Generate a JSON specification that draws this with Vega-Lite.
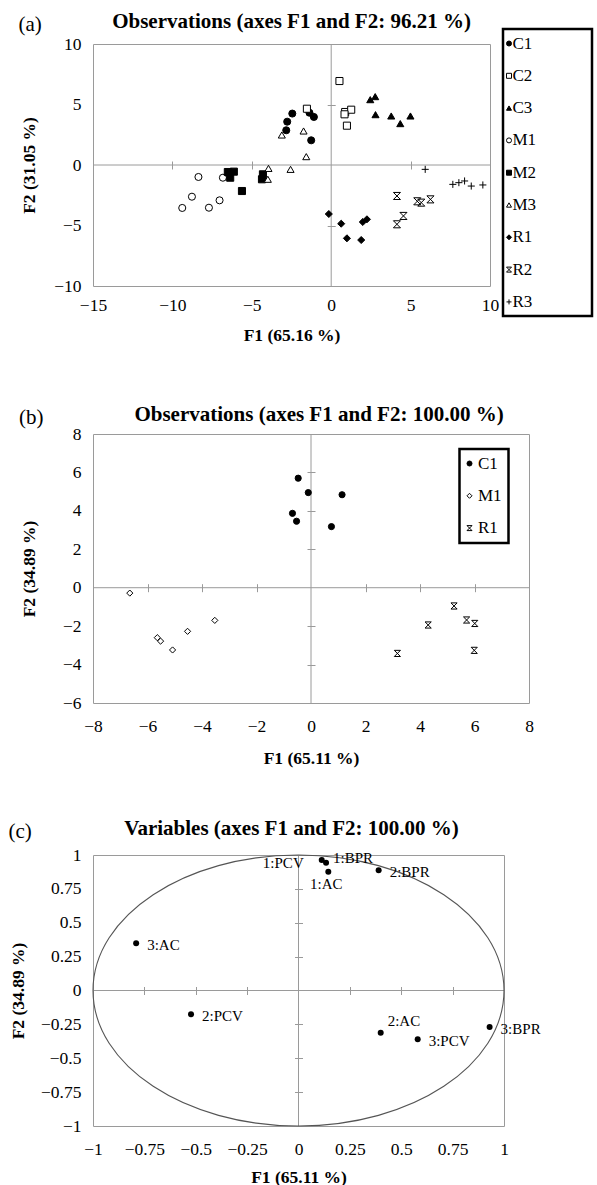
{
  "$schema": "https://vega.github.io/schema/vega-lite/v6.json",
  "background": "white",
  "padding": {"left": 7, "top": 10, "right": 0, "bottom": 0},
  "config": {
    "font": "Liberation Serif",
    "view": {"stroke": "#9a9a9a", "strokeWidth": 1},
    "axis": {"domain": false, "ticks": false, "grid": false, "labelFont": "Liberation Serif", "labelFontSize": 17.5, "labelColor": "black", "titleFont": "Liberation Serif", "titleFontSize": 17.5, "titleFontWeight": "bold", "titleColor": "black", "labelFlush": false, "labelOverlap": false, "format": ".3~r", "labelPadding": 8, "titlePadding": 10},
    "title": {"font": "Liberation Serif", "fontSize": 21, "fontWeight": "bold", "color": "black", "anchor": "middle", "frame": "group", "baseline": "alphabetic"},
    "legend": {"strokeColor": "black", "strokeWidth": 2.5, "labelFont": "Liberation Serif", "labelFontSize": 17, "labelColor": "black", "symbolStrokeColor": "black", "symbolStrokeWidth": 1, "padding": 6, "rowPadding": 14.3, "labelOffset": 4, "symbolSize": 25}
  },
  "datasets": {
    "a": [
      {"series": "C1", "F1": -2.45, "F2": 4.25}, {"series": "C1", "F1": -2.77, "F2": 3.58}, {"series": "C1", "F1": -2.83, "F2": 2.87}, {"series": "C1", "F1": -1.37, "F2": 4.32}, {"series": "C1", "F1": -1.09, "F2": 3.97}, {"series": "C1", "F1": -1.26, "F2": 2.04},
      {"series": "C2", "F1": 0.52, "F2": 6.94}, {"series": "C2", "F1": -1.53, "F2": 4.65}, {"series": "C2", "F1": 0.88, "F2": 4.38}, {"series": "C2", "F1": 1.26, "F2": 4.57}, {"series": "C2", "F1": 0.84, "F2": 4.19}, {"series": "C2", "F1": 0.99, "F2": 3.25},
      {"series": "C3", "F1": 2.46, "F2": 5.4}, {"series": "C3", "F1": 2.77, "F2": 5.65}, {"series": "C3", "F1": 2.79, "F2": 4.16}, {"series": "C3", "F1": 3.78, "F2": 4.05}, {"series": "C3", "F1": 4.35, "F2": 3.42}, {"series": "C3", "F1": 4.99, "F2": 4.05},
      {"series": "M1", "F1": -8.36, "F2": -0.99}, {"series": "M1", "F1": -8.77, "F2": -2.62}, {"series": "M1", "F1": -9.38, "F2": -3.55}, {"series": "M1", "F1": -7.7, "F2": -3.53}, {"series": "M1", "F1": -7.03, "F2": -2.92}, {"series": "M1", "F1": -6.82, "F2": -1.05},
      {"series": "M2", "F1": -6.51, "F2": -0.58}, {"series": "M2", "F1": -6.13, "F2": -0.55}, {"series": "M2", "F1": -6.36, "F2": -1.05}, {"series": "M2", "F1": -5.62, "F2": -2.15}, {"series": "M2", "F1": -4.3, "F2": -0.77}, {"series": "M2", "F1": -4.36, "F2": -1.18},
      {"series": "M3", "F1": -3.11, "F2": 2.48}, {"series": "M3", "F1": -1.74, "F2": 2.81}, {"series": "M3", "F1": -1.57, "F2": 0.69}, {"series": "M3", "F1": -2.56, "F2": -0.36}, {"series": "M3", "F1": -3.95, "F2": -0.28}, {"series": "M3", "F1": -3.99, "F2": -1.18},
      {"series": "R1", "F1": -0.15, "F2": -4.05}, {"series": "R1", "F1": 0.63, "F2": -4.85}, {"series": "R1", "F1": 0.99, "F2": -6.06}, {"series": "R1", "F1": 1.89, "F2": -6.2}, {"series": "R1", "F1": 1.99, "F2": -4.71}, {"series": "R1", "F1": 2.25, "F2": -4.49},
      {"series": "R2", "F1": 4.14, "F2": -2.56}, {"series": "R2", "F1": 5.42, "F2": -3.0}, {"series": "R2", "F1": 5.67, "F2": -3.11}, {"series": "R2", "F1": 6.25, "F2": -2.84}, {"series": "R2", "F1": 4.55, "F2": -4.21}, {"series": "R2", "F1": 4.14, "F2": -4.9},
      {"series": "R3", "F1": 5.92, "F2": -0.36}, {"series": "R3", "F1": 7.66, "F2": -1.6}, {"series": "R3", "F1": 8.04, "F2": -1.46}, {"series": "R3", "F1": 8.4, "F2": -1.32}, {"series": "R3", "F1": 8.82, "F2": -1.74}, {"series": "R3", "F1": 9.55, "F2": -1.65}
    ],
    "b": [
      {"series": "C1", "F1": -0.47, "F2": 5.7}, {"series": "C1", "F1": -0.1, "F2": 4.95}, {"series": "C1", "F1": 1.14, "F2": 4.84}, {"series": "C1", "F1": -0.68, "F2": 3.87}, {"series": "C1", "F1": -0.53, "F2": 3.46}, {"series": "C1", "F1": 0.75, "F2": 3.18},
      {"series": "M1", "F1": -6.65, "F2": -0.28}, {"series": "M1", "F1": -5.64, "F2": -2.6}, {"series": "M1", "F1": -5.52, "F2": -2.78}, {"series": "M1", "F1": -5.08, "F2": -3.24}, {"series": "M1", "F1": -4.53, "F2": -2.27}, {"series": "M1", "F1": -3.53, "F2": -1.7},
      {"series": "R1", "F1": 3.17, "F2": -3.42}, {"series": "R1", "F1": 4.3, "F2": -1.94}, {"series": "R1", "F1": 5.25, "F2": -0.95}, {"series": "R1", "F1": 5.71, "F2": -1.68}, {"series": "R1", "F1": 6.01, "F2": -1.86}, {"series": "R1", "F1": 5.99, "F2": -3.26}
    ],
    "c": [
      {"label": "1:PCV", "F1": 0.113, "F2": 0.963},
      {"label": "1:BPR", "F1": 0.134, "F2": 0.943},
      {"label": "1:AC", "F1": 0.145, "F2": 0.877},
      {"label": "2:BPR", "F1": 0.39, "F2": 0.887},
      {"label": "3:AC", "F1": -0.79, "F2": 0.348},
      {"label": "2:PCV", "F1": -0.523, "F2": -0.176},
      {"label": "2:AC", "F1": 0.4, "F2": -0.311},
      {"label": "3:PCV", "F1": 0.58, "F2": -0.36},
      {"label": "3:BPR", "F1": 0.93, "F2": -0.27}
    ]
  },
  "bounds": "flush",
  "spacing": 148,
  "resolve": {"scale": {"shape": "independent", "fill": "independent", "stroke": "independent"}, "legend": {"shape": "independent", "fill": "independent", "stroke": "independent"}},
  "vconcat": [
    {
      "width": 397, "height": 242,
      "title": {"text": "Observations (axes F1 and F2: 96.21 %)", "offset": -19},
      "resolve": {"axis": {"x": "independent", "y": "independent"}},
      "layer": [
        {"data": {"values": [{}]}, "mark": {"type": "rule", "color": "#9a9a9a"},
         "encoding": {"y": {"datum": 0, "type": "quantitative", "scale": {"domain": [-10, 10], "nice": false, "zero": false},
           "axis": {"orient": "left", "offset": -242.2, "ticks": true, "tickSize": 8, "tickColor": "#9a9a9a", "labels": false, "values": [-5, 5], "title": "(a)", "titleAngle": 0, "titleFontWeight": "normal", "titleFontSize": 21, "titleAlign": "left", "titleBaseline": "alphabetic", "titleX": -317.2, "titleY": -14}}}},
        {"data": {"values": [{}]}, "mark": {"type": "rule", "color": "#9a9a9a"},
         "encoding": {"x": {"datum": 0, "type": "quantitative", "scale": {"domain": [-15, 10], "nice": false, "zero": false},
           "axis": {"orient": "bottom", "offset": -125, "ticks": true, "tickSize": 8, "tickColor": "#9a9a9a", "labels": false, "values": [-10, -5, 5], "title": null}}}},
        {"data": {"name": "a"}, "mark": {"type": "point", "size": 50, "strokeWidth": 1, "opacity": 1},
         "encoding": {
           "x": {"field": "F1", "type": "quantitative", "scale": {"domain": [-15, 10], "nice": false, "zero": false}, "axis": {"orient": "bottom", "values": [-15, -10, -5, 0, 5, 10], "title": "F1 (65.16 %)", "labelPadding": 10, "titlePadding": 13}},
           "y": {"field": "F2", "type": "quantitative", "scale": {"domain": [-10, 10], "nice": false, "zero": false}, "axis": {"orient": "left", "values": [-10, -5, 0, 5, 10], "title": "F2 (31.05 %)", "labelPadding": 12, "titleX": -64, "titleBaseline": "middle"}},
           "shape": {"field": "series", "type": "nominal",
             "scale": {"domain": ["C1", "C2", "C3", "M1", "M2", "M3", "R1", "R2", "R3"], "range": ["circle", "square", "triangle-up", "circle", "square", "triangle-up", "diamond", "M-1,-1L1,-1L-1,1L1,1Z", "M-1,0L1,0M0,-1L0,1"]},
             "legend": {"title": "\u00a0", "titleOrient": "right", "titlePadding": 50, "orient": "none", "legendX": 410, "legendY": -15, "symbolSize": 25, "symbolOffset": -8.5, "labelOffset": -5}},
           "fill": {"field": "series", "type": "nominal",
             "scale": {"domain": ["C1", "C2", "C3", "M1", "M2", "M3", "R1", "R2", "R3"], "range": ["black", "white", "black", "white", "black", "white", "black", "transparent", "transparent"]},
             "legend": {"title": "\u00a0", "titleOrient": "right", "titlePadding": 50, "orient": "none", "legendX": 410, "legendY": -15, "symbolSize": 25, "symbolOffset": -8.5, "labelOffset": -5}},
           "stroke": {"field": "series", "type": "nominal",
             "scale": {"domain": ["C1", "C2", "C3", "M1", "M2", "M3", "R1", "R2", "R3"], "range": ["black", "black", "black", "black", "black", "black", "black", "black", "black"]},
             "legend": {"title": "\u00a0", "titleOrient": "right", "titlePadding": 50, "orient": "none", "legendX": 410, "legendY": -15, "symbolSize": 25, "symbolOffset": -8.5, "labelOffset": -5}}
         }}
      ]
    },
    {
      "bounds": "flush",
      "spacing": 152,
      "resolve": {"scale": {"shape": "independent", "fill": "independent", "stroke": "independent"}, "legend": {"shape": "independent", "fill": "independent", "stroke": "independent"}},
      "vconcat": [
        {
          "width": 436, "height": 269,
          "title": {"text": "Observations (axes F1 and F2: 100.00 %)", "offset": -19, "dx": 8},
          "resolve": {"axis": {"x": "independent", "y": "independent"}},
          "layer": [
            {"data": {"values": [{}]}, "mark": {"type": "rule", "color": "#9a9a9a"},
             "encoding": {"y": {"datum": 0, "type": "quantitative", "scale": {"domain": [-6, 8], "nice": false, "zero": false},
               "axis": {"orient": "left", "offset": -222, "ticks": true, "tickSize": 8, "tickColor": "#9a9a9a", "labels": false, "values": [-4, -2, 2, 4, 6], "title": "(b)", "titleAngle": 0, "titleFontWeight": "normal", "titleFontSize": 21, "titleAlign": "left", "titleBaseline": "alphabetic", "titleX": -296.5, "titleY": -11}}}},
            {"data": {"values": [{}]}, "mark": {"type": "rule", "color": "#9a9a9a"},
             "encoding": {"x": {"datum": 0, "type": "quantitative", "scale": {"domain": [-8, 8], "nice": false, "zero": false},
               "axis": {"orient": "bottom", "offset": -119.3, "ticks": true, "tickSize": 8, "tickColor": "#9a9a9a", "labels": false, "values": [-6, -4, -2, 2, 4, 6], "title": null}}}},
            {"data": {"name": "b"}, "mark": {"type": "point", "size": 38, "strokeWidth": 1, "opacity": 1},
             "encoding": {
               "x": {"field": "F1", "type": "quantitative", "scale": {"domain": [-8, 8], "nice": false, "zero": false}, "axis": {"orient": "bottom", "values": [-8, -6, -4, -2, 0, 2, 4, 6, 8], "title": "F1 (65.11 %)", "labelPadding": 14, "titlePadding": 15}},
               "y": {"field": "F2", "type": "quantitative", "scale": {"domain": [-6, 8], "nice": false, "zero": false}, "axis": {"orient": "left", "values": [-6, -4, -2, 0, 2, 4, 6, 8], "title": "F2 (34.89 %)", "labelPadding": 12, "titleX": -63.5, "titleBaseline": "middle"}},
               "shape": {"field": "series", "type": "nominal",
                 "scale": {"domain": ["C1", "M1", "R1"], "range": ["circle", "diamond", "M-1,-1L1,-1L-1,1L1,1Z"]},
                 "legend": {"title": null, "orient": "none", "legendX": 366.5, "legendY": 15, "symbolSize": 25, "symbolOffset": -4.5, "labelOffset": 0}},
               "fill": {"field": "series", "type": "nominal",
                 "scale": {"domain": ["C1", "M1", "R1"], "range": ["black", "white", "transparent"]},
                 "legend": {"title": null, "orient": "none", "legendX": 366.5, "legendY": 15, "symbolSize": 25, "symbolOffset": -4.5, "labelOffset": 0}},
               "stroke": {"field": "series", "type": "nominal",
                 "scale": {"domain": ["C1", "M1", "R1"], "range": ["black", "black", "black"]},
                 "legend": {"title": null, "orient": "none", "legendX": 366.5, "legendY": 15, "symbolSize": 25, "symbolOffset": -4.5, "labelOffset": 0}}
             }}
          ]
        },
        {
          "width": 411, "height": 271,
          "title": {"text": "Variables (axes F1 and F2: 100.00 %)", "offset": -19, "dx": -7},
          "resolve": {"axis": {"x": "independent", "y": "independent"}},
          "layer": [
            {"data": {"values": [{}]}, "mark": {"type": "rule", "color": "#9a9a9a"},
             "encoding": {"y": {"datum": 0, "type": "quantitative", "scale": {"domain": [-1, 1], "nice": false, "zero": false},
               "axis": {"orient": "left", "offset": -209.5, "ticks": true, "tickSize": 8, "tickColor": "#9a9a9a", "labels": false, "values": [-0.75, -0.5, -0.25, 0.25, 0.5, 0.75], "title": "(c)", "titleAngle": 0, "titleFontWeight": "normal", "titleFontSize": 21, "titleAlign": "left", "titleBaseline": "alphabetic", "titleX": -294.5, "titleY": -18}}}},
            {"data": {"values": [{}]}, "mark": {"type": "rule", "color": "#9a9a9a"},
             "encoding": {"x": {"datum": 0, "type": "quantitative", "scale": {"domain": [-1, 1], "nice": false, "zero": false},
               "axis": {"orient": "bottom", "offset": -139.5, "ticks": true, "tickSize": 8, "tickColor": "#9a9a9a", "labels": false, "values": [-0.75, -0.5, -0.25, 0.25, 0.5, 0.75], "title": null}}}},
            {"data": {"values": [{}]}, "mark": {"type": "point", "shape": "M-1,0C-1,-0.3642 -0.5523,-0.6594 0,-0.6594C0.5523,-0.6594 1,-0.3642 1,0C1,0.3642 0.5523,0.6594 0,0.6594C-0.5523,0.6594 -1,0.3642 -1,0Z", "size": 168921, "filled": false, "stroke": "#555555", "strokeWidth": 1.1, "opacity": 1},
             "encoding": {"x": {"datum": 0, "type": "quantitative", "axis": null}, "y": {"datum": 0, "type": "quantitative", "axis": null}}},
            {"data": {"name": "c"}, "mark": {"type": "point", "shape": "circle", "size": 36, "filled": true, "color": "black", "opacity": 1},
             "encoding": {
               "x": {"field": "F1", "type": "quantitative", "scale": {"domain": [-1, 1], "nice": false, "zero": false}, "axis": {"orient": "bottom", "values": [-1, -0.75, -0.5, -0.25, 0, 0.25, 0.5, 0.75, 1], "title": "F1 (65.11 %)", "labelPadding": 14, "titlePadding": 11}},
               "y": {"field": "F2", "type": "quantitative", "scale": {"domain": [-1, 1], "nice": false, "zero": false}, "axis": {"orient": "left", "values": [-1, -0.75, -0.5, -0.25, 0, 0.25, 0.5, 0.75, 1], "title": "F2 (34.89 %)", "labelPadding": 12, "titleX": -75, "titleBaseline": "middle"}}
             }},
            {"data": {"name": "c"}, "transform": [{"filter": {"not": {"field": "label", "oneOf": ["1:PCV", "1:BPR", "1:AC", "2:AC"]}}}],
             "mark": {"type": "text", "align": "left", "baseline": "middle", "dx": 11, "dy": 2, "fontSize": 15, "font": "Liberation Serif", "color": "black"},
             "encoding": {"x": {"field": "F1", "type": "quantitative", "axis": null}, "y": {"field": "F2", "type": "quantitative", "axis": null}, "text": {"field": "label"}}},
            {"data": {"name": "c"}, "transform": [{"filter": {"field": "label", "equal": "1:PCV"}}],
             "mark": {"type": "text", "align": "right", "baseline": "middle", "dx": -18, "dy": 3, "fontSize": 15, "font": "Liberation Serif", "color": "black"},
             "encoding": {"x": {"field": "F1", "type": "quantitative", "axis": null}, "y": {"field": "F2", "type": "quantitative", "axis": null}, "text": {"field": "label"}}},
            {"data": {"name": "c"}, "transform": [{"filter": {"field": "label", "equal": "1:BPR"}}],
             "mark": {"type": "text", "align": "left", "baseline": "middle", "dx": 7, "dy": -5, "fontSize": 15, "font": "Liberation Serif", "color": "black"},
             "encoding": {"x": {"field": "F1", "type": "quantitative", "axis": null}, "y": {"field": "F2", "type": "quantitative", "axis": null}, "text": {"field": "label"}}},
            {"data": {"name": "c"}, "transform": [{"filter": {"field": "label", "equal": "1:AC"}}],
             "mark": {"type": "text", "align": "center", "baseline": "middle", "dx": -2, "dy": 12, "fontSize": 15, "font": "Liberation Serif", "color": "black"},
             "encoding": {"x": {"field": "F1", "type": "quantitative", "axis": null}, "y": {"field": "F2", "type": "quantitative", "axis": null}, "text": {"field": "label"}}},
            {"data": {"name": "c"}, "transform": [{"filter": {"field": "label", "equal": "2:AC"}}],
             "mark": {"type": "text", "align": "left", "baseline": "middle", "dx": 7, "dy": -12, "fontSize": 15, "font": "Liberation Serif", "color": "black"},
             "encoding": {"x": {"field": "F1", "type": "quantitative", "axis": null}, "y": {"field": "F2", "type": "quantitative", "axis": null}, "text": {"field": "label"}}}
          ]
        }
      ]
    }
  ]
}
